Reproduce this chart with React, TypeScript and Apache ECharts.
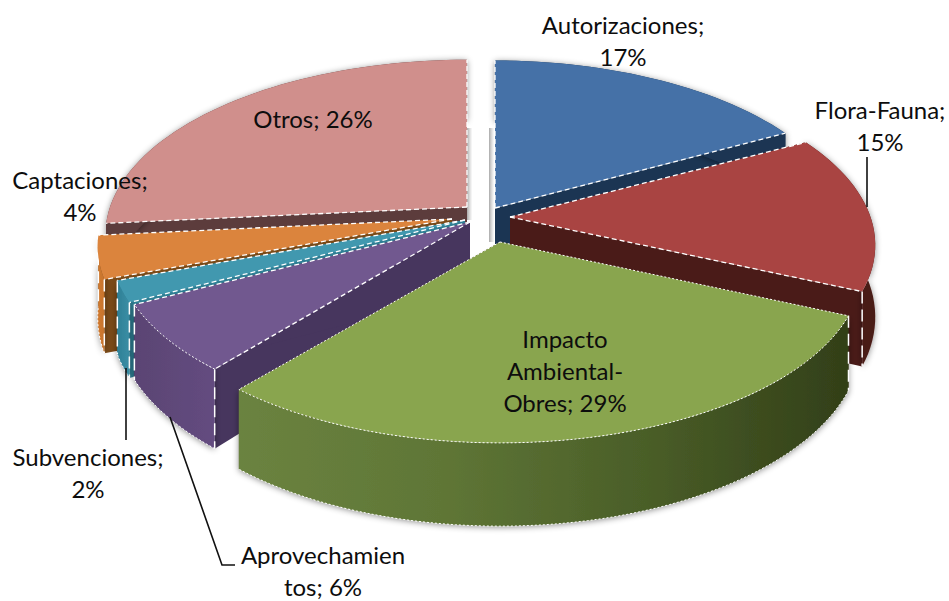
import React, { useEffect, useRef } from "react";
import * as echarts from "echarts";

const categories = ["Autorizaciones", "Flora-Fauna", "Impacto Ambiental-Obres", "Aprovechamientos", "Subvenciones", "Captaciones", "Otros"];
const values = [17.2, 14.5, 29.4, 6.4, 2, 4, 26.5];
// Painter's order: back slices first
const drawOrder = [6, 0, 1, 5, 4, 3, 2];

const faceColors = ["#4571a7", "#a94442", "#89a54e", "#71588f", "#4198af", "#db843d", "#d08f8c"];
const sideColors = ["#1b3553", "#4a1b18", "#47361f", "#47365e", "#2f7f94", "#7a4a18", "#5c3c3c"];
const rimStops: string[][] = [
  ["#1b3553", "#1b3553"],
  ["#4a1b18", "#4a1b18"],
  ["#6b8340", "#5f7636", "#4a5e28", "#323f18"],
  ["#5a4473", "#644c80"],
  ["#2f8096", "#3a8ea5"],
  ["#d07a30", "#c8742c"],
  ["#5c3c3c", "#5c3c3c"],
];
// Exploded position of every slice's apex on the page, and its size factors
const apexes = [[495, 208], [510, 217], [500, 242], [470, 222], [465, 220], [452, 219], [467, 207]];
const scales = [1.01, 1.03, 1.02, 1.0, 1.0, 1.0, 1.02];
const yScales = [1, 0.98, 0.98, 1, 1, 1, 0.99];

const RX = 350;
const RY = 169;
const P = 0.156;
const DEPTH = 70;

const total = values.reduce((a, b) => a + b, 0);
const starts: number[] = [];
values.reduce((acc, v, i) => {
  starts[i] = acc;
  return acc + (v / total) * 360;
}, 0);

function project(apex: number[], scale: number, yScale: number, deg: number) {
  const a = (deg * Math.PI) / 180;
  const u = Math.sin(a) * scale;
  const v = Math.cos(a) * scale;
  const w = 1 + P * v;
  return { x: apex[0] + (RX * u) / w, y: apex[1] - (RY * yScale * v) / w, d: DEPTH / w };
}

function renderSlice(_: any, api: any) {
  const i = api.value(0) as number;
  const apex = apexes[i];
  const s = scales[i];
  const a0 = starts[i];
  const a1 = a0 + (values[i] / total) * 360;
  const arc: { x: number; y: number; d: number }[] = [];
  const n = Math.max(6, Math.ceil((a1 - a0) / 2));
  for (let k = 0; k <= n; k++) arc.push(project(apex, s, yScales[i], a0 + ((a1 - a0) * k) / n));
  const first = arc[0];
  const last = arc[arc.length - 1];
  const topArc = arc.map((p) => [p.x, p.y]);
  const lowArc = arc.map((p) => [p.x, p.y + p.d]);
  const dash = { stroke: "#fff", lineWidth: 1.3, lineDash: [5, 3] };
  const dots = { stroke: "#fff", lineWidth: 1, lineDash: [2, 2] };
  const front = i >= 2 && i <= 5;
  const stops = rimStops[i];
  const fillRim = {
    type: "linear",
    x: 0,
    y: 0,
    x2: 1,
    y2: 0,
    colorStops: stops.map((c, k) => ({ offset: k / (stops.length - 1), color: c })),
  };
  const side = (p: { x: number; y: number; d: number }) => ({
    type: "polygon",
    shape: { points: [[apex[0], apex[1]], [p.x, p.y], [p.x, p.y + p.d], [apex[0], apex[1] + DEPTH]] },
    style: { fill: sideColors[i] },
  });
  const corner = (p: { x: number; y: number; d: number }) => ({
    type: "polyline",
    shape: { points: [[p.x, p.y], [p.x, p.y + p.d]] },
    style: { fill: "none", stroke: "#fff", lineWidth: 1.5, lineDash: [12, 6] },
  });
  const edge = (p: { x: number; y: number; d: number }) => ({
    type: "polyline",
    shape: { points: [[apex[0], apex[1]], [p.x, p.y]] },
    style: { fill: "none", ...(i === 2 ? dots : dash) },
  });
  const children: any[] = [
    side(first),
    side(last),
    {
      type: "polygon",
      shape: { points: [...topArc, ...lowArc.slice().reverse()] },
      style: {
        fill: fillRim,
        shadowBlur: 6,
        shadowColor: "rgba(0,0,0,0.45)",
        shadowOffsetY: 1,
      },
    },
  ];
  if (front) {
    children.push({
      type: "polyline",
      shape: { points: lowArc },
      style: { fill: "none", ...dots },
    });
  }
  if (i !== 0 && i !== 6) {
    children.push(corner(i === 1 ? last : first));
    if (i >= 3) children.push(corner(last));
  }
  children.push({
    type: "polygon",
    shape: { points: [[apex[0], apex[1]], ...topArc] },
    style: { fill: faceColors[i] },
  });
  if (i === 2 || i === 3) {
    children.push({ type: "polyline", shape: { points: topArc }, style: { fill: "none", ...dots } });
  }
  children.push(edge(first), edge(last));
  return { type: "group", children };
}

const FONT = "Lato";
const FS = 24;
const label = (text: string, x: number, y: number) => ({
  type: "text",
  x,
  y,
  z: 20,
  style: {
    text,
    fontFamily: FONT,
    fontSize: FS,
    lineHeight: 32,
    fill: "#0d0d0d",
    align: "center",
    verticalAlign: "middle",
  },
});
const leader = (points: number[][]) => ({
  type: "polyline",
  z: 19,
  shape: { points },
  style: { stroke: "#111", lineWidth: 1.6, fill: "none" },
});
const wallShadow = (x: number, y: number, height: number) => ({
  type: "rect",
  z: 0,
  shape: { x, y, width: 5, height },
  style: {
    fill: {
      type: "linear",
      x: 0,
      y: 0,
      x2: 1,
      y2: 0,
      colorStops: [
        { offset: 0, color: "#a8a8a8" },
        { offset: 1, color: "rgba(200,200,200,0.1)" },
      ],
    },
  },
});

export default function App() {
  const ref = useRef<HTMLDivElement>(null);
  useEffect(() => {
    document.body.style.margin = "0";
    const chart = echarts.init(ref.current!, undefined, { renderer: "svg" });
    chart.setOption({
      animation: false,
      backgroundColor: "#fff",
      graphic: {
        elements: [
          wallShadow(467, 128, 92),
          wallShadow(489, 128, 114),
          label("Autorizaciones;\n17%", 623, 40),
          label("Flora-Fauna;\n15%", 880, 125),
          label("Otros; 26%", 313, 118),
          label("Captaciones;\n4%", 80, 195),
          label("Impacto\nAmbiental-\nObres; 29%", 565, 370),
          label("Subvenciones;\n2%", 88, 472),
          label("Aprovechamien\ntos; 6%", 323, 570),
          leader([[867, 207], [867, 157]]),
          leader([[126, 368], [126, 440]]),
          leader([[170, 417], [222, 565], [235, 565]]),
        ],
      },
      series: [
        {
          type: "custom",
          coordinateSystem: "none",
          name: "Pie",
          silent: true,
          clip: false,
          z: 5,
          renderItem: renderSlice,
          data: drawOrder.map((i) => ({ name: categories[i], value: [i, values[i]] })),
        },
      ],
    });
    return () => chart.dispose();
  }, []);
  return <div ref={ref} style={{ width: 949, height: 601 }} />;
}
